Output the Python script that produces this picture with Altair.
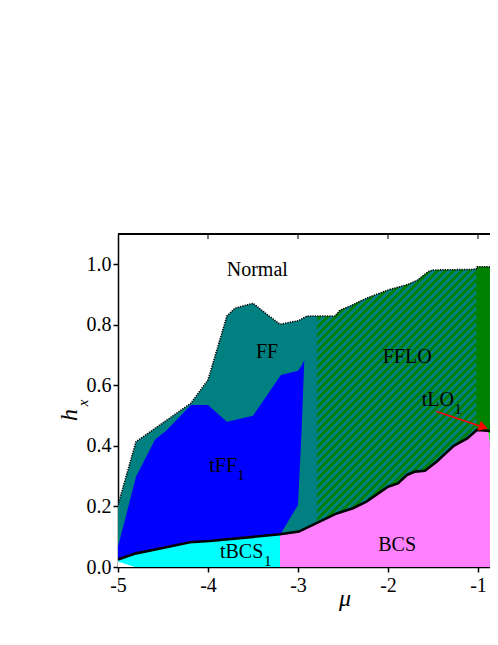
import math
import altair as alt
import pandas as pd

# ---------------- data ----------------
X_MIN, X_MAX = -5.0, -0.8667
Y_MIN, Y_MAX = 0.0, 1.1
W, H = 372, 333

# outer (dotted) boundary of the ordered phases
outer_mu = [-5.0, -4.8, -4.19, -4.0, -3.79, -3.70, -3.50, -3.29, -3.20, -2.99, -2.90,
            -2.786, -2.59, -2.53, -2.42, -2.24, -1.98, -1.79, -1.68, -1.55, -1.50,
            -1.05, -1.02, -1.01, -0.88, -0.79, -0.70]
outer_h = [0.205, 0.414, 0.541, 0.618, 0.829, 0.855, 0.871, 0.822, 0.802, 0.814, 0.829,
           0.829, 0.829, 0.849, 0.862, 0.888, 0.917, 0.932, 0.946, 0.976, 0.981,
           0.983, 0.985, 0.992, 0.992, 0.981, 0.975]
FFLO_LEFT, FFLO_RIGHT = -2.786, -1.02

# tFF1 region (blue)
tff_mu = [-5.0, -4.8, -4.59, -4.46, -4.19, -4.0, -3.79, -3.5, -3.19, -3.0, -2.96, -2.93]
tff_top = [0.067, 0.298, 0.42, 0.452, 0.535, 0.535, 0.48, 0.50, 0.634, 0.648, 0.665, 0.684]
tff_bot = [0.0, 0.0, 0.0, 0.0, 0.0, 0.0, 0.0, 0.0, 0.111, 0.205, 0.45, 0.684]

# solid black boundary (superconducting / BCS)
bcs_mu = [-5.0, -4.8, -4.61, -4.2, -3.98, -3.2, -2.99, -2.76, -2.57, -2.39, -2.24, -2.0,
          -1.89, -1.79, -1.70, -1.59, -1.46, -1.27, -1.12, -1.01, -0.90, -0.78, -0.70]
bcs_h = [0.025, 0.045, 0.056, 0.082, 0.086, 0.108, 0.117, 0.150, 0.177, 0.194, 0.216, 0.265,
         0.276, 0.304, 0.315, 0.318, 0.348, 0.400, 0.425, 0.453, 0.450, 0.446, 0.444]

# tBCS1 region (cyan)
tbcs_mu = [-5.0, -4.81, -4.61, -4.2, -3.98, -3.2]
tbcs_top = [0.025, 0.045, 0.056, 0.082, 0.086, 0.108]

# small normal-state corner at the bottom left
corner_mu = [-5.0, -4.81]
corner_h = [0.018, 0.0]

# bright green wedge at the right edge
gw_mu = [-0.886, -0.78, -0.70]
gw_top = [0.450, 0.446, 0.444]
gw_bot = [0.450, 0.23, 0.20]

# arrow pointing at tLO1
arrow_mu = [-1.46]
arrow_h = [0.514]
arrow_mu2 = [-0.94]
arrow_h2 = [0.462]

# phase labels
lab_text = ["Normal", "FF", "FFLO", "tLO", "tFF", "tBCS", "BCS"]
lab_mu = [-3.792, -3.467, -2.059, -1.626, -3.986, -3.867, -2.108]
lab_h = [0.961, 0.689, 0.673, 0.532, 0.315, 0.029, 0.053]
sub_text = ["1", "1", "1"]
sub_mu = [-1.263, -3.674, -3.378]
sub_h = [0.505, 0.287, 0.004]

x_ticks = [-5, -4, -3, -2, -1]
top_ticks = [-4, -3, -2, -1]
y_ticks = [0.0, 0.2, 0.4, 0.6, 0.8, 1.0]

# ---------------- colours / styles ----------------
TEAL = "#008080"
DGREEN = "#008000"
BLUE = "#0000ff"
CYAN = "#00ffff"
PINK = "#ff80ff"
LGREEN = "#00ff00"
RED = "#ff0000"
FONT = "Liberation Serif"

# ---------------- helpers ----------------
x_axis = alt.Axis(values=x_ticks, labelExpr="'' + datum.value", labelFont=FONT,
                  labelFontSize=20, labelColor="black", labelFlush=False,
                  labelOverlap=False, labelPadding=3, tickSize=5, tickWidth=1.5,
                  tickColor="black", domainColor="black", domainWidth=1.5,
                  grid=False, title=None)
y_axis = alt.Axis(values=y_ticks, format=".1f", labelFont=FONT, labelFontSize=20,
                  labelColor="black", labelOverlap=False, labelPadding=2,
                  tickSize=5, tickWidth=1.5, tickColor="black",
                  domainColor="black", domainWidth=1.5, grid=False, title=None)
X = alt.X("mu:Q", scale=alt.Scale(domain=[X_MIN, X_MAX], nice=False, zero=False), axis=x_axis)
Y = alt.Y("h:Q", scale=alt.Scale(domain=[Y_MIN, Y_MAX], nice=False), axis=y_axis)


def region(mu, top, bot=None):
    if bot is None:
        bot = [0.0] * len(mu)
    return pd.DataFrame({"mu": mu, "h": top, "lo": bot})


def area(df, fill):
    return alt.Chart(df).mark_area(fill=fill, clip=True, interpolate="linear").encode(
        x=X, y=Y, y2=alt.Y2("lo:Q"))


outer_df = region(outer_mu, outer_h)
fflo_df = outer_df[(outer_df.mu >= FFLO_LEFT) & (outer_df.mu <= FFLO_RIGHT)]
lo_df = outer_df[outer_df.mu >= FFLO_RIGHT]

# striped fill for the FFLO region (45 degree hatching)
px_mu = W / (X_MAX - X_MIN)
px_h = H / (Y_MAX - Y_MIN)
bw = (FFLO_RIGHT - FFLO_LEFT) * px_mu
bh = fflo_df.h.max() * px_h
k = (bw + bh) / (bw * bw + bh * bh)
span = (bw + bh) / math.sqrt(2)
period = 8.0 / math.sqrt(2)
n = span / period
stops = []
i = 0
while i / n < 1:
    a, b, c = i / n, min((i + 0.5) / n, 1.0), min((i + 1) / n, 1.0)
    stops += [{"offset": a, "color": DGREEN}, {"offset": b, "color": DGREEN},
              {"offset": b, "color": TEAL}, {"offset": c, "color": TEAL}]
    i += 1
stripes = {"gradient": "linear", "x1": 0, "y1": 0, "x2": bw * k, "y2": bh * k, "stops": stops}

layers = [
    area(outer_df, TEAL),
    area(lo_df, DGREEN),
    area(fflo_df, stripes),
    area(region(tff_mu, tff_top, tff_bot), BLUE),
    area(region(bcs_mu[4:], bcs_h[4:]), PINK),
    area(region(tbcs_mu, tbcs_top), CYAN),
    area(region(corner_mu, corner_h), "white"),
    area(region(gw_mu, gw_top, gw_bot), LGREEN),
    alt.Chart(pd.DataFrame({"mu": bcs_mu, "h": bcs_h})).mark_line(
        color="black", strokeWidth=2.6, clip=True).encode(x=X, y=Y),
    alt.Chart(pd.DataFrame({"mu": outer_mu, "h": outer_h})).mark_line(
        color="black", strokeWidth=1.6, strokeDash=[1.2, 1.2], clip=True).encode(x=X, y=Y),
    alt.Chart(pd.DataFrame({"mu": arrow_mu, "h": arrow_h, "mu2": arrow_mu2, "h2": arrow_h2}))
    .mark_rule(color=RED, strokeWidth=1.6).encode(x=X, y=Y, x2="mu2:Q", y2="h2:Q"),
    alt.Chart(pd.DataFrame({"mu": arrow_mu2, "h": arrow_h2})).mark_point(
        shape="triangle-right", filled=True, color=RED, opacity=1, size=110, angle=20)
    .encode(x=X, y=Y),
    alt.Chart(pd.DataFrame({"mu": lab_mu, "h": lab_h, "t": lab_text})).mark_text(
        font=FONT, fontSize=20, color="black", align="left", baseline="alphabetic")
    .encode(x=X, y=Y, text="t:N"),
    alt.Chart(pd.DataFrame({"mu": sub_mu, "h": sub_h, "t": sub_text})).mark_text(
        font=FONT, fontSize=15, color="black", align="left", baseline="alphabetic")
    .encode(x=X, y=Y, text="t:N"),
    # top frame and its inward ticks
    alt.Chart(pd.DataFrame({"mu": [X_MIN], "h": [Y_MAX]})).mark_rule(
        color="black", strokeWidth=1.8).encode(x=X, x2=alt.value(W), y=Y),
    alt.Chart(pd.DataFrame({"mu": top_ticks})).mark_tick(
        orient="vertical", color="black", size=5, thickness=1.5).encode(x=X, y=alt.value(2.5)),
    # axis titles
    alt.Chart(pd.DataFrame({"t": ["μ"]})).mark_text(
        font=FONT, fontSize=24, fontStyle="italic", color="black", align="center",
        baseline="alphabetic").encode(x=alt.value(227), y=alt.value(372), text="t:N"),
    alt.Chart(pd.DataFrame({"t": ["h"]})).mark_text(
        font=FONT, fontSize=24, fontStyle="italic", color="black", align="center",
        baseline="alphabetic", angle=270).encode(x=alt.value(-41), y=alt.value(181), text="t:N"),
    alt.Chart(pd.DataFrame({"t": ["x"]})).mark_text(
        font=FONT, fontSize=15, fontStyle="italic", color="black", align="center",
        baseline="alphabetic", angle=270).encode(x=alt.value(-30), y=alt.value(169), text="t:N"),
]

chart = alt.layer(*layers).properties(
    width=W, height=H, autosize=alt.AutoSizeParams(type="none"),
    padding={"left": 110, "top": 226, "right": 0, "bottom": 48},
).configure_view(stroke=None)

chart.save("out.html", embed_options={"renderer": "svg", "actions": False})
